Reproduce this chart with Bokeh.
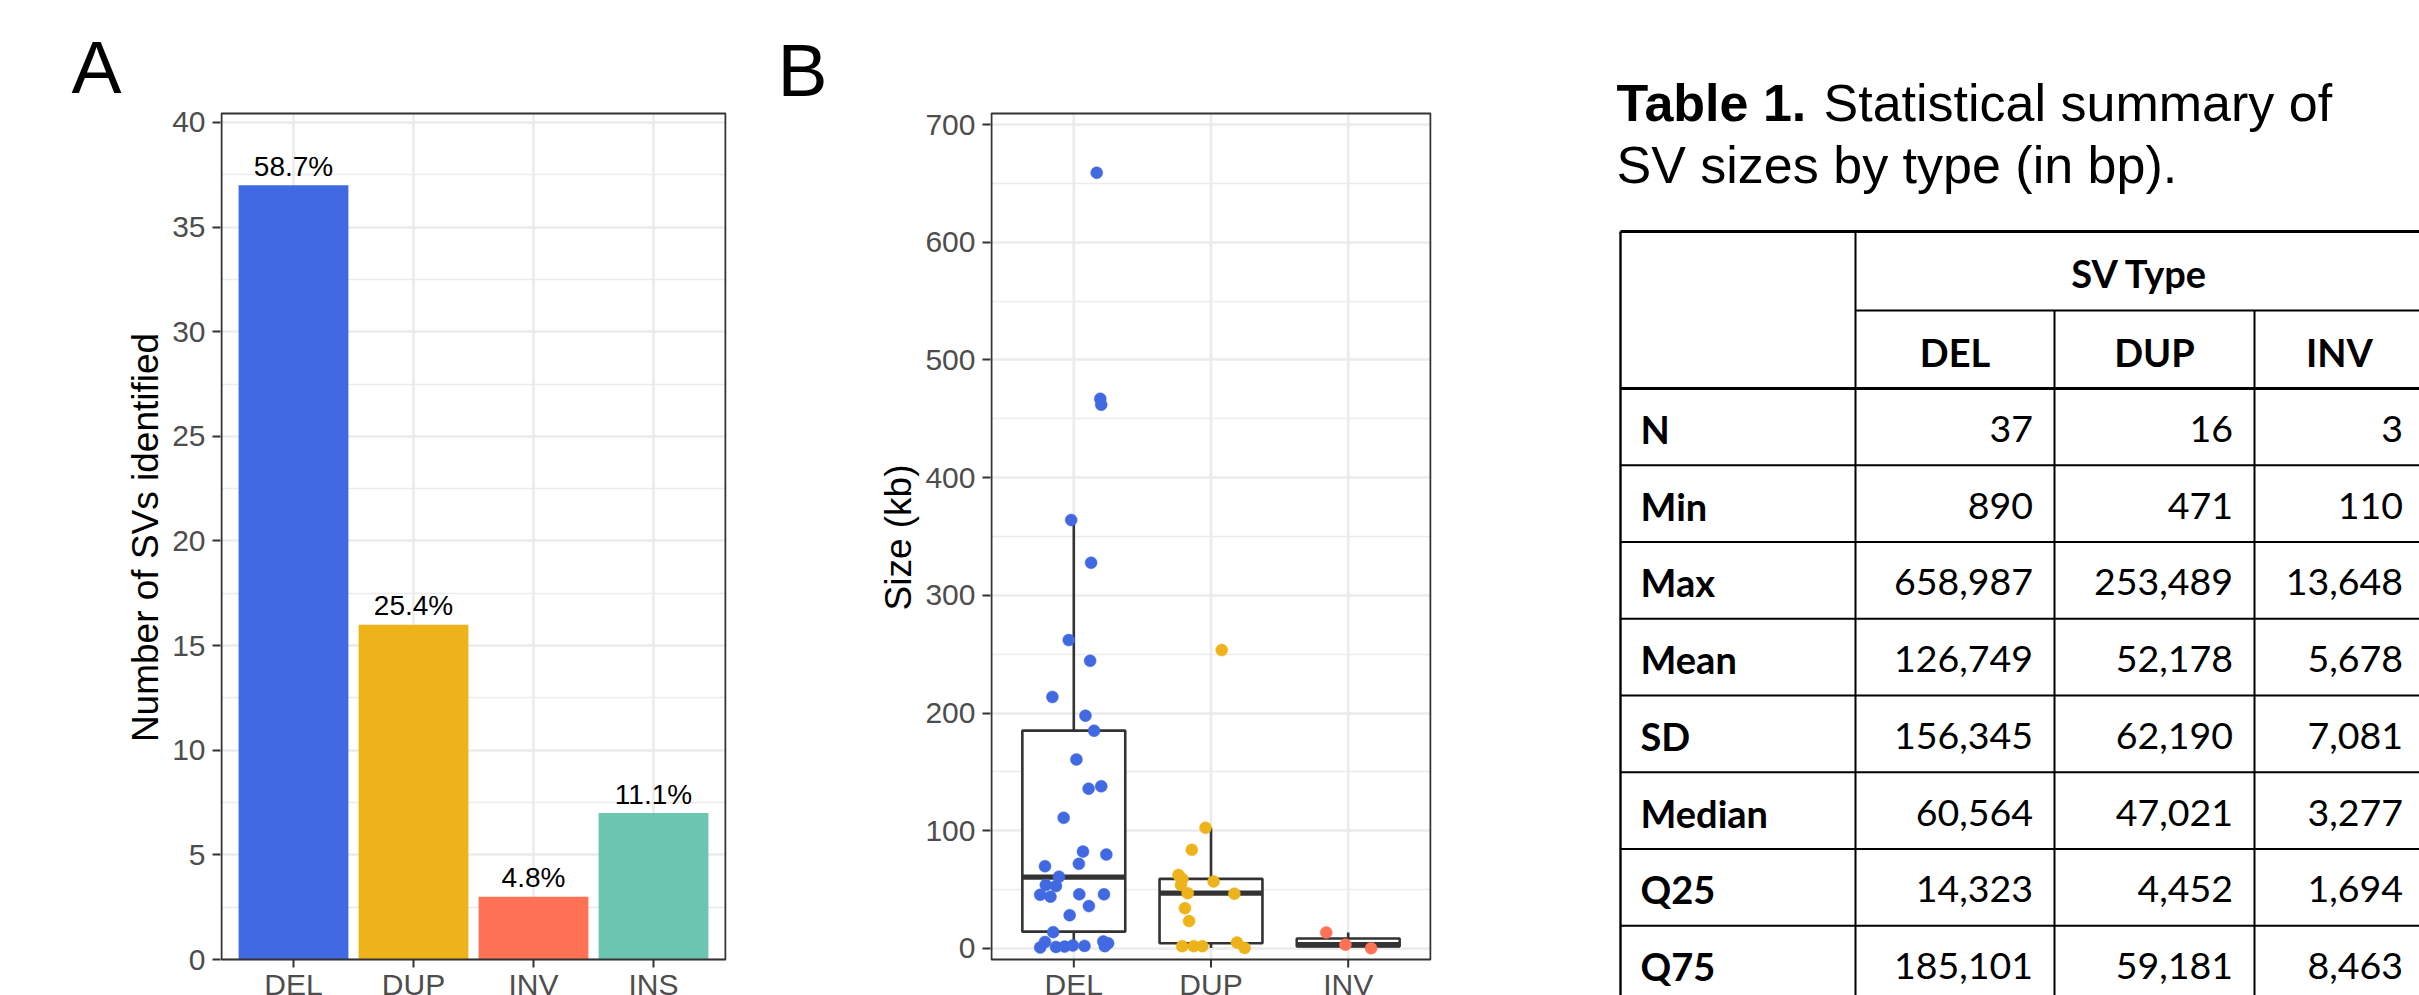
from bokeh.plotting import figure
from bokeh.models import Range1d, FixedTicker
from bokeh.layouts import row
from bokeh.embed import file_html
from bokeh.resources import INLINE
from bokeh.core.properties import value

# ---------------- data ----------------
sv_types = ["DEL", "DUP", "INV", "INS"]
sv_counts = [37, 16, 3, 7]
bar_colors = ["#4169E1", "#EEB21A", "#FF7256", "#6CC5B0"]

box_types = ["DEL", "DUP", "INV"]
point_colors = ["#4169E1", "#EEB21A", "#FF7256"]

del_size_kb = [658.987, 467, 462, 364, 327.7, 262, 244.4, 213.7, 197.8, 185, 160.6,
               137.8, 135.8, 111, 82.3, 79.8, 71.9, 69.9, 61, 54, 53, 45.6, 44, 46, 46,
               36, 28.3, 13.9, 5.5, 0.89, 1.3, 1.6, 2.6, 2.2, 6, 4.5, 2.0]
del_jitter = [0.167, 0.193, 0.2, -0.019, 0.126, -0.037, 0.119, -0.156, 0.085, 0.148,
              0.019, 0.2, 0.108, -0.074, 0.067, 0.237, 0.037, -0.21, -0.108, -0.204,
              -0.13, -0.245, -0.17, 0.04, 0.22, 0.11, -0.03, -0.15, -0.21, -0.245,
              -0.13, -0.067, -0.007, 0.078, 0.215, 0.25, 0.226]
dup_size_kb = [253.489, 102.6, 83.8, 62.5, 59, 57, 54, 47, 46.6, 34.2, 23.3, 2.0, 2.0,
               2.0, 5.0, 0.471]
dup_jitter = [0.078, -0.04, -0.14, -0.237, -0.208, 0.019, -0.219, -0.17, 0.17, -0.19,
              -0.16, -0.21, -0.126, -0.063, 0.189, 0.245]
inv_size_kb = [13.648, 3.277, 0.110]
inv_jitter = [-0.16, -0.02, 0.167]

stat_names = ["N", "Min", "Max", "Mean", "SD", "Median", "Q25", "Q75"]
del_stats = [37, 890, 658987, 126749, 156345, 60564, 14323, 185101]
dup_stats = [16, 471, 253489, 52178, 62190, 47021, 4452, 59181]
inv_stats = [3, 110, 13648, 5678, 7081, 3277, 1694, 8463]

a_yticks = [0, 5, 10, 15, 20, 25, 30, 35, 40]
b_yticks = [0, 100, 200, 300, 400, 500, 600, 700]

# ---------------- layout (page pixels; Bokeh's page has no body margin) ----------------
PAGE_W, PAGE_H = 2419, 995
H = PAGE_H
FRAME_T = 79              # top of the plotting frames of both panels
PANEL_T, PANEL_B = 113, 959
FONT = "Liberation Sans"
GRID = "#EBEBEB"
DARK = "#333333"


class Geo:
    def __init__(self, fig_x0, fig_x1, frame_l, frame_r, c1, dx, lo, hi):
        self.fig_x0, self.fig_x1, self.frame_l, self.frame_r = fig_x0, fig_x1, frame_l, frame_r
        self.c1, self.dx, self.lo, self.hi = c1, dx, lo, hi

    def x(self, page):
        return 1 + (page - self.c1) / self.dx

    def y(self, page):
        return self.lo + (PANEL_B - page) * (self.hi - self.lo) / (PANEL_B - PANEL_T)


def make_panel(g, n, yticks, yminor, ylabel):
    p = figure(width=g.fig_x1 - g.fig_x0, height=H,
               x_range=Range1d(g.x(g.frame_l), g.x(g.frame_r)),
               y_range=Range1d(g.y(PAGE_H), g.y(FRAME_T)),
               output_backend="svg", toolbar_location=None, title=None,
               x_axis_location=None, frame_align=False,
               min_border_left=g.frame_l - g.fig_x0, min_border_right=g.fig_x1 - g.frame_r,
               min_border_top=FRAME_T, min_border_bottom=0)
    p.background_fill_color = "white"
    p.border_fill_color = "white"
    p.outline_line_color = None
    yt = FixedTicker(ticks=yticks, minor_ticks=yminor)
    p.yaxis.ticker = yt
    p.ygrid.ticker = yt
    p.xgrid.visible = False
    p.ygrid.grid_line_color = GRID
    p.ygrid.grid_line_width = 2.6
    p.ygrid.minor_grid_line_color = GRID
    p.ygrid.minor_grid_line_width = 1.3
    ax = p.yaxis
    ax.axis_line_color = None
    ax.major_tick_line_color = DARK
    ax.major_tick_line_width = 2
    ax.major_tick_out = 8
    ax.major_tick_in = 0
    ax.minor_tick_line_color = None
    ax.major_label_text_font = FONT
    ax.major_label_text_font_size = "30px"
    ax.major_label_text_color = "#4D4D4D"
    ax.major_label_standoff = 7
    ax.axis_label = ylabel
    ax.axis_label_text_font = FONT
    ax.axis_label_text_font_size = "37px"
    ax.axis_label_text_font_style = "normal"
    ax.axis_label_text_color = "black"
    ax.axis_label_standoff = 3
    cats = list(range(1, n + 1))
    p.segment(x0=cats, y0=[g.lo] * n, x1=cats, y1=[g.hi] * n, line_color=GRID, line_width=2.6)
    return p


def finish_panel(p, g, labels):
    n = len(labels)
    cats = list(range(1, n + 1))
    p.segment(x0=cats, y0=[g.lo] * n, x1=cats, y1=[g.y(PANEL_B + 8)] * n,
              line_color=DARK, line_width=2)
    p.text(x=cats, y=[g.y(983.7)] * n, text=labels, text_align="center",
           text_baseline="middle", text_font=value(FONT), text_font_size=value("30px"),
           text_color="#4D4D4D")
    p.quad(left=[0.4], right=[n + 0.6], bottom=[g.lo], top=[g.hi], fill_color=None,
           line_color=DARK, line_width=2)


# ---------------- Panel A ----------------
ga = Geo(122, 740, 220, 726, 293, 120.0, 0.0, 40.43)
pa = make_panel(ga, len(sv_types), a_yticks, [t + 2.5 for t in a_yticks[:-1]],
                "Number of SVs identified")
total = sum(sv_counts)
pct = ["%.1f%%" % (100.0 * c / total) for c in sv_counts]
xpos_a = list(range(1, len(sv_types) + 1))
pa.vbar(x=xpos_a, top=sv_counts, bottom=0, width=0.915, fill_color=bar_colors, line_color=None)
lab_gap = ga.y(PANEL_B - 19) - ga.y(PANEL_B)
pa.text(x=xpos_a, y=[c + lab_gap for c in sv_counts], text=pct, text_align="center",
        text_baseline="middle", text_font=value(FONT), text_font_size=value("28px"),
        text_color="black")
finish_panel(pa, ga, sv_types)

# ---------------- Panel B ----------------
gb = Geo(870, 1500, 990, 1431, 1073.3, 137.2, -9.35, 709.35)
pb = make_panel(gb, len(box_types), b_yticks, [t + 50 for t in b_yticks[:-1]], "Size (kb)")

groups = [(del_stats, del_size_kb, del_jitter), (dup_stats, dup_size_kb, dup_jitter),
          (inv_stats, inv_size_kb, inv_jitter)]
bl, br, bq1, bq3, bmed, wlo, whi, cx = [], [], [], [], [], [], [], []
px, py, pc = [], [], []
for i, (st, pts, jit) in enumerate(groups):
    c = i + 1
    q1, med, q3 = st[6] / 1000.0, st[5] / 1000.0, st[7] / 1000.0
    iqr = q3 - q1
    hi = max(v for v in pts if v <= q3 + 1.5 * iqr)
    lo = min(v for v in pts if v >= q1 - 1.5 * iqr)
    bl.append(c - 0.375); br.append(c + 0.375)
    bq1.append(q1); bq3.append(q3); bmed.append(med)
    wlo.append(lo); whi.append(hi); cx.append(c)
    for v, j in zip(pts, jit):
        px.append(c + j); py.append(v); pc.append(point_colors[i])

pb.segment(x0=cx, y0=bq3, x1=cx, y1=whi, line_color=DARK, line_width=2.6)
pb.segment(x0=cx, y0=wlo, x1=cx, y1=bq1, line_color=DARK, line_width=2.6)
pb.quad(left=bl, right=br, bottom=bq1, top=bq3, fill_color="white", line_color=DARK, line_width=2.6)
pb.segment(x0=bl, y0=bmed, x1=br, y1=bmed, line_color=DARK, line_width=5.2)
pb.scatter(x=px, y=py, size=12, fill_color=pc, line_color=pc, line_width=0.5)
finish_panel(pb, gb, box_types)


# ---------------- panel letters ----------------
def plain_fig(x0, x1):
    f = figure(width=x1 - x0, height=H, x_range=Range1d(x0, x1), y_range=Range1d(PAGE_H, 0),
               output_backend="svg", toolbar_location=None, title=None, min_border=0,
               x_axis_location=None, y_axis_location=None, frame_align=False)
    f.outline_line_color = None
    f.xgrid.visible = False
    f.ygrid.visible = False
    f.background_fill_color = "white"
    f.border_fill_color = "white"
    return f


def letter_fig(x0, x1, letter, lx, ly):
    f = plain_fig(x0, x1)
    f.text(x=[lx], y=[ly], text=[letter], text_font=value(FONT), text_font_size=value("75px"),
           text_baseline="middle", text_align="left", text_color="black")
    return f


fla = letter_fig(0, 122, "A", 71, 66)
flb = letter_fig(740, 870, "B", 777, 69)

# ---------------- Table ----------------
pt = plain_fig(1500, PAGE_W)
pt.text(x=[1616], y=[102], text=["Table 1."], text_font=value(FONT), text_font_style="bold",
        text_font_size=value("52px"), text_baseline="middle", text_color="black")
pt.text(x=[1823, 1616], y=[102, 164.5], text=["Statistical summary of", "SV sizes by type (in bp)."],
        text_font=value(FONT), text_font_size=value("52px"), text_baseline="middle",
        text_color="black")

col_edges = [1620, 1855, 2054, 2254, 2424]
t_top, hdr1, hdr2 = 231, 310, 388
row_h = 76.75
n_rows = len(stat_names)
row_edges = [hdr2 + row_h * k for k in range(n_rows + 1)]
TF = "Lato"

sx0, sy0, sx1, sy1, sw = [], [], [], [], []


def seg(a, b, c, d, w):
    sx0.append(a); sy0.append(b); sx1.append(c); sy1.append(d); sw.append(w)


seg(col_edges[0], t_top, col_edges[-1], t_top, 3)
seg(col_edges[1], hdr1, col_edges[-1], hdr1, 2)
seg(col_edges[0], hdr2, col_edges[-1], hdr2, 3)
for yy in row_edges[1:]:
    seg(col_edges[0], yy, col_edges[-1], yy, 2)
seg(col_edges[0], t_top, col_edges[0], row_edges[-1], 2.4)
seg(col_edges[1], t_top, col_edges[1], row_edges[-1], 2)
for xe in col_edges[2:4]:
    seg(xe, hdr1, xe, row_edges[-1], 2)
pt.segment(x0=sx0, y0=sy0, x1=sx1, y1=sy1, line_width=sw, line_color="black")

MID = 2
pt.text(x=[(col_edges[1] + col_edges[-1]) / 2.0], y=[(t_top + hdr1) / 2.0 + MID], text=["SV Type"],
        text_font=value(TF), text_font_style="bold", text_font_size=value("38px"),
        text_align="center", text_baseline="middle", text_color="black")
pt.text(x=[(col_edges[k] + col_edges[k + 1]) / 2.0 for k in range(1, 4)],
        y=[(hdr1 + hdr2) / 2.0 + MID] * 3, text=box_types,
        text_font=value(TF), text_font_style="bold", text_font_size=value("38px"),
        text_align="center", text_baseline="middle", text_color="black")
rc = [(row_edges[k] + row_edges[k + 1]) / 2.0 + MID for k in range(n_rows)]
pt.text(x=[col_edges[0] + 20] * n_rows, y=rc, text=stat_names,
        text_font=value(TF), text_font_style="bold", text_font_size=value("38px"),
        text_align="left", text_baseline="middle", text_color="black")
vx, vy, vt = [], [], []
for k, st in enumerate([del_stats, dup_stats, inv_stats]):
    for r_, v in enumerate(st):
        vx.append(col_edges[k + 2] - 21.5)
        vy.append(rc[r_])
        vt.append(f"{v:,}")
pt.text(x=vx, y=vy, text=vt, text_font=value(TF), text_font_size=value("37.5px"),
        text_align="right", text_baseline="middle", text_color="black")

layout = row(fla, pa, flb, pb, pt)
open("out.html", "w").write(file_html(layout, INLINE))
